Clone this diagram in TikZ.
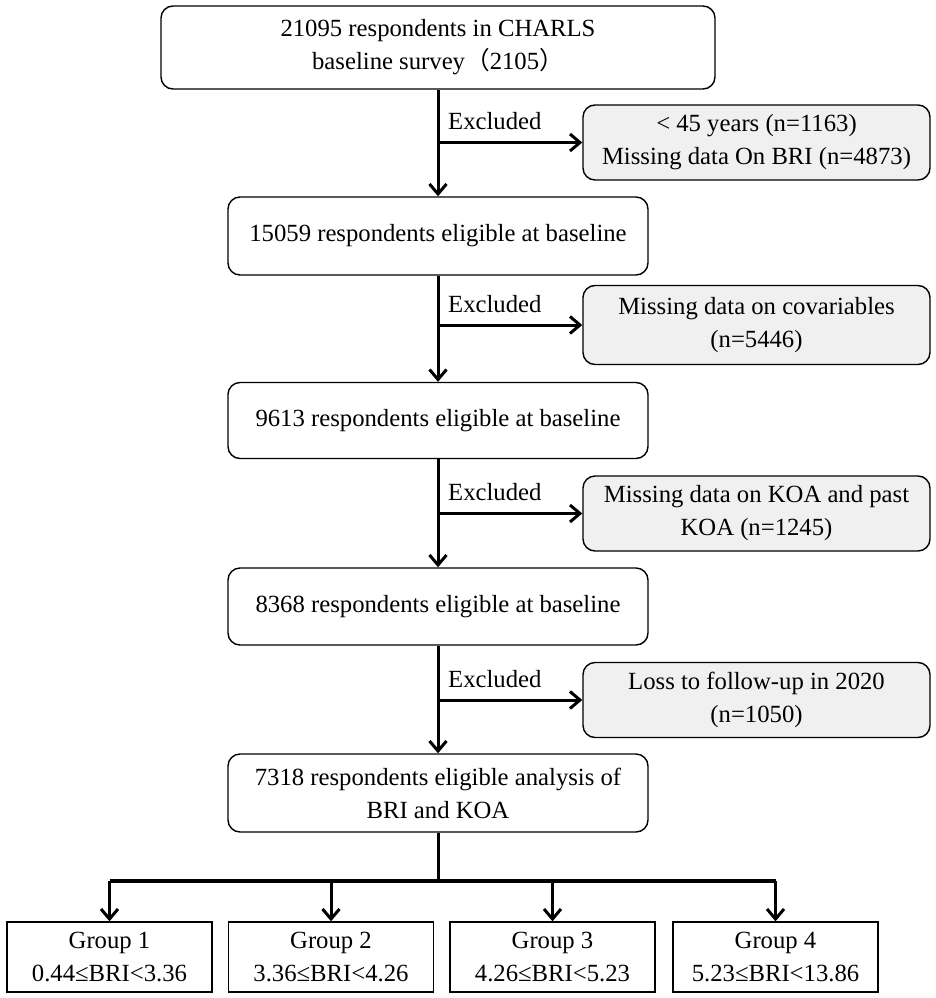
\documentclass[tikz,border=0pt]{standalone}
\usepackage{fontspec}
\setmainfont{Liberation Serif}
\newfontfamily\cjk{Noto Sans CJK SC}
\usetikzlibrary{arrows.meta}
\begin{document}
\begin{tikzpicture}[x=1pt,y=-1pt,
  every node/.style={font=\fontsize{24.7}{33}\selectfont, align=center, inner sep=0pt},
  mainbox/.style={draw, rounded corners=12pt, line width=1.4pt},
  exclbox/.style={mainbox, fill=black!6, minimum width=347pt},
  grpbox/.style={draw, line width=1.4pt, minimum width=205pt, minimum height=70pt},
  flow/.style={line width=3pt, -{Straight Barb[length=10pt,width=17pt]}},
  ]
\useasboundingbox (0,0) rectangle (936,998);
% main column
\node[mainbox, minimum width=554pt, minimum height=83pt] (top) at (438,47.5)
  {21095 respondents in CHARLS\\baseline survey{\cjk （}2105{\cjk ）}};
\node[mainbox, minimum width=420pt, minimum height=78pt] (b2) at (438,236)
  {15059 respondents eligible at baseline};
\node[mainbox, minimum width=420pt, minimum height=76pt] (b3) at (438,420.5)
  {9613 respondents eligible at baseline};
\node[mainbox, minimum width=420pt, minimum height=77pt] (b4) at (438,606.5)
  {8368 respondents eligible at baseline};
\node[mainbox, minimum width=420pt, minimum height=78pt] (b5) at (438,793)
  {7318 respondents eligible analysis of\\BRI and KOA};
% exclusion boxes
\node[exclbox, minimum height=75pt] (e1) at (756.5,142.5)
  {< 45 years (n=1163)\\Missing data On BRI (n=4873)};
\node[exclbox, minimum height=79pt] (e2) at (756.5,325)
  {Missing data on covariables\\(n=5446)};
\node[exclbox, minimum height=75pt] (e3) at (756.5,513.5)
  {Missing data on KOA and past\\KOA (n=1245)};
\node[exclbox, minimum height=75pt] (e4) at (756.5,700)
  {Loss to follow-up in 2020\\(n=1050)};
% group boxes
\node[grpbox] (g1) at (109.5,957) {Group 1\\0.44≤BRI<3.36};
\node[grpbox] (g2) at (331,957) {Group 2\\3.36≤BRI<4.26};
\node[grpbox] (g3) at (552.5,957) {Group 3\\4.26≤BRI<5.23};
\node[grpbox] (g4) at (775.5,957) {Group 4\\5.23≤BRI<13.86};
% main arrows
\draw[flow] (top.south) -- (b2.north);
\draw[flow] (b2.south) -- (b3.north);
\draw[flow] (b3.south) -- (b4.north);
\draw[flow] (b4.south) -- (b5.north);
% exclusion branches
\foreach \e in {e1,e2,e3,e4}{
  \draw[flow] (b2.center |- \e.west) -- (\e.west);
}
\node[anchor=base west] (x1) at (448,129.5) {Excluded};
\node[anchor=base west] (x2) at (448,312) {Excluded};
\node[anchor=base west] (x3) at (448,500.5) {Excluded};
\node[anchor=base west] (x4) at (448,687) {Excluded};
% split to groups
\coordinate (bar) at (438,881);
\draw[line width=3pt] (b5.south) -- (bar);
\draw[line width=4pt] (g1.north |- bar) -- (g4.north |- bar);
\foreach \g in {g1,g2,g3,g4}{
  \draw[flow] (\g.north |- bar) -- (\g.north);
}
\end{tikzpicture}
\end{document}
